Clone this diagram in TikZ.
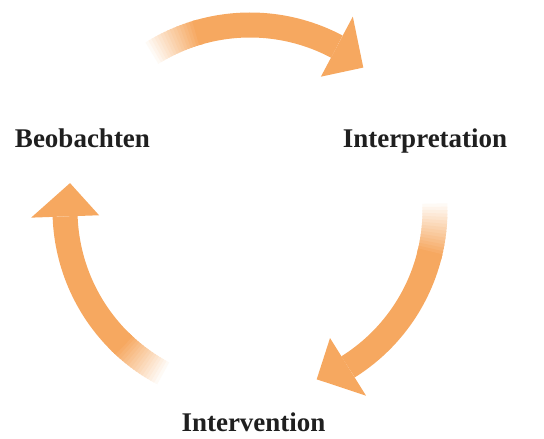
\documentclass[tikz,border=0pt]{standalone}
\usepackage{fontspec}
\setmainfont{Liberation Serif}
\usepackage{tikz}
\usepackage{xcolor}
\usetikzlibrary{calc}
\definecolor{cyc}{RGB}{246,168,96}

\begin{document}
\begin{tikzpicture}[x=1pt,y=1pt]
        \tikzstyle{every node}=[font=\fontsize{27}{30}\selectfont\bfseries, text=black!88, inner sep=0pt, anchor=base]
        \tikzstyle{band}=[line width=25pt]
            \useasboundingbox (0,0) rectangle (544,439);
            \coordinate (C) at (250,229);

            \node (beo) at (82.5,291) {Beobachten};
            \node (int) at (425,291) {Interpretation};
            \node (itv) at (253.5,7) {Intervention};

            % three arrows, 120 degrees apart
            \foreach \t in {123,3,-117} {
                \foreach \i [evaluate=\i as \p using \i*6.25] in {0,...,16}
                    \draw[band, cyc!\p!white] ($(C)+(\t-\i:185)$) arc[start angle=\t-\i, end angle=\t-\i-1.5, radius=185];
                \draw[band, cyc] ($(C)+(\t-16:185)$) arc[start angle=\t-16, end angle=\t-61, radius=185];
                \fill[cyc] ($(C)+(\t-61:151)$) -- ($(C)+(\t-61:219)$) -- ($(C)+(\t-71.5:182)$) -- cycle;
            }

        \end{tikzpicture}
\end{document}
